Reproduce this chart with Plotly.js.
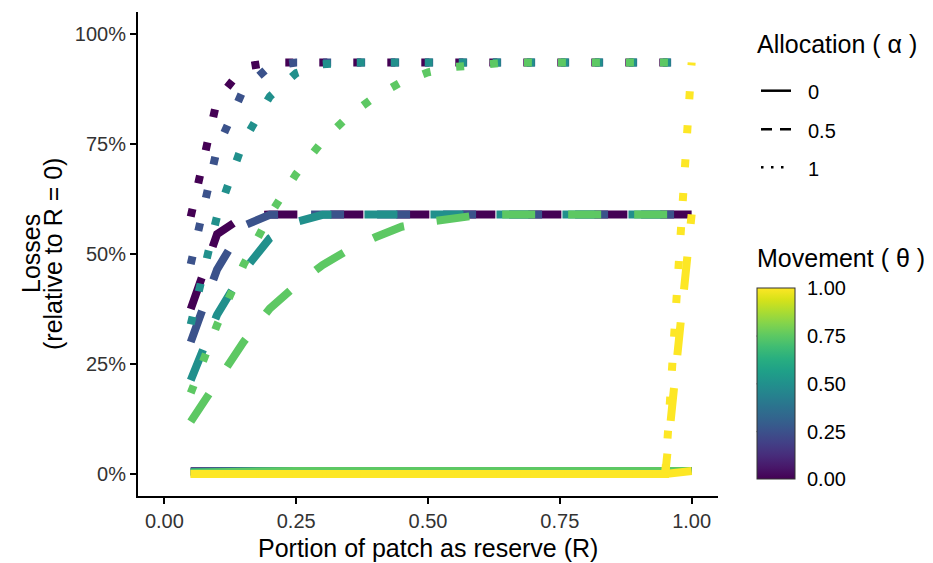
<!DOCTYPE html>
<html>
<head>
<meta charset="utf-8">
<script src="https://cdn.plot.ly/plotly-3.0.1.min.js"></script>
<style>
  html, body { margin: 0; padding: 0; background: #ffffff; }
  #chart { width: 933px; height: 563px; }
</style>
</head>
<body>
<div id="chart"></div>
<script>
// ---- data ----
const R = [0.05,0.10,0.15,0.20,0.25,0.30,0.35,0.40,0.45,0.50,0.55,0.60,0.65,0.70,0.75,0.80,0.85,0.90,0.95,1.00];
const thetas = [0, 0.25, 0.5, 0.75, 1];
const thetaColors = ['#440154','#3B528B','#21908C','#5DC863','#FDE725'];
const alphaLabels = ['0','0.5','1'];
const xTickVals = [0, 0.25, 0.5, 0.75, 1];
const xTickText = ['0.00','0.25','0.50','0.75','1.00'];
const yTickVals = [0, 0.25, 0.5, 0.75, 1];
const yTickText = ['0%','25%','50%','75%','100%'];
const cbTickText = ['0.00','0.25','0.50','0.75','1.00'];

// alpha = 0 (solid)
const solid_theta000 = [0.006,0.007,0.007,0.007,0.007,0.007,0.007,0.007,0.007,0.007,0.007,0.007,0.007,0.007,0.007,0.007,0.007,0.007,0.007,0.007];
const solid_theta025 = [0.0055,0.0068,0.007,0.007,0.007,0.007,0.007,0.007,0.007,0.007,0.007,0.007,0.007,0.007,0.007,0.007,0.007,0.007,0.007,0.007];
const solid_theta050 = [0.0045,0.006,0.0068,0.007,0.007,0.007,0.007,0.007,0.007,0.007,0.007,0.007,0.007,0.007,0.007,0.007,0.007,0.007,0.007,0.007];
const solid_theta075 = [0.003,0.005,0.006,0.0065,0.007,0.007,0.007,0.007,0.007,0.007,0.007,0.007,0.007,0.007,0.007,0.007,0.007,0.007,0.007,0.007];
const solid_theta100 = [0,0,0,0,0,0,0,0,0,0,0,0,0,0,0,0,0,0,0,0.007];
// alpha = 0.5 (dashed)
const dashed_theta000 = [0.375,0.545,0.585,0.59,0.59,0.59,0.59,0.59,0.59,0.59,0.59,0.59,0.59,0.59,0.59,0.59,0.59,0.59,0.59,0.59];
const dashed_theta025 = [0.30,0.465,0.564,0.589,0.59,0.59,0.59,0.59,0.59,0.59,0.59,0.59,0.59,0.59,0.59,0.59,0.59,0.59,0.59,0.59];
const dashed_theta050 = [0.213,0.362,0.461,0.536,0.573,0.589,0.59,0.59,0.59,0.59,0.59,0.59,0.59,0.59,0.59,0.59,0.59,0.59,0.59,0.59];
const dashed_theta075 = [0.119,0.212,0.30,0.376,0.429,0.475,0.51,0.538,0.562,0.573,0.583,0.589,0.59,0.59,0.59,0.59,0.59,0.59,0.59,0.59];
const dashed_theta100 = [0,0,0,0,0,0,0,0,0,0,0,0,0,0,0,0,0,0,0,0.59];
// alpha = 1 (dotted)
const dotted_theta000 = [0.585,0.85,0.925,0.935,0.935,0.935,0.935,0.935,0.935,0.935,0.935,0.935,0.935,0.935,0.935,0.935,0.935,0.935,0.935,0.935];
const dotted_theta025 = [0.477,0.739,0.874,0.927,0.935,0.935,0.935,0.935,0.935,0.935,0.935,0.935,0.935,0.935,0.935,0.935,0.935,0.935,0.935,0.935];
const dotted_theta050 = [0.34,0.586,0.756,0.858,0.911,0.931,0.935,0.935,0.935,0.935,0.935,0.935,0.935,0.935,0.935,0.935,0.935,0.935,0.935,0.935];
const dotted_theta075 = [0.184,0.339,0.475,0.589,0.682,0.757,0.814,0.858,0.891,0.913,0.925,0.932,0.935,0.935,0.935,0.935,0.935,0.935,0.935,0.935];
const dotted_theta100 = [0,0,0,0,0,0,0,0,0,0,0,0,0,0,0,0,0,0,0,0.935];

const seriesByTheta = [
  [solid_theta000, dashed_theta000, dotted_theta000],
  [solid_theta025, dashed_theta025, dotted_theta025],
  [solid_theta050, dashed_theta050, dotted_theta050],
  [solid_theta075, dashed_theta075, dotted_theta075],
  [solid_theta100, dashed_theta100, dotted_theta100]
];

// ---- styling ----
const FONT = '"Liberation Sans", Arial, Helvetica, sans-serif';
const LW = 8;
const dashStyles = ['solid', '33px,33px', '8px,26px'];
const TITLE_SIZE = 25;
const TICK_SIZE = 20;

// plot area in pixels
const W = 933, H = 563;
const M = {l: 138, r: 215, t: 12, b: 67};
const PW = W - M.l - M.r, PH = H - M.t - M.b;
const px = v => (v - M.l) / PW;          // pixel x -> paper
const py = v => (H - M.b - v) / PH;      // pixel y -> paper

const traces = [];
thetas.forEach((th, i) => {
  seriesByTheta[i].forEach((ys, a) => {
    traces.push({
      type: 'scatter', mode: 'lines', x: R, y: ys,
      line: {color: thetaColors[i], width: LW, dash: dashStyles[a]},
      name: 'theta ' + th + ', alpha ' + alphaLabels[a],
      showlegend: false, hoverinfo: 'skip'
    });
  });
});

// colour bar (invisible carrier trace)
const cbBottom = 479.3, cbTop = 288.3, cbLeft = 756.7, cbThick = 38;
traces.push({
  type: 'scatter', mode: 'markers', x: [R[0]], y: [solid_theta000[0]],
  marker: {
    color: [thetas[0]], opacity: 0, cmin: 0, cmax: 1, colorscale: 'Viridis', showscale: true,
    colorbar: {
      x: px(cbLeft), xanchor: 'left', xpad: 0,
      y: py(cbBottom), yanchor: 'bottom', ypad: 0,
      lenmode: 'pixels', len: cbBottom - cbTop,
      thicknessmode: 'pixels', thickness: cbThick,
      outlinewidth: 1, outlinecolor: '#333333',
      tickmode: 'array', tickvals: thetas, ticktext: cbTickText,
      ticks: 'outside', ticklen: 8, tickwidth: 1, tickcolor: 'rgba(0,0,0,0)',
      tickfont: {family: FONT, size: TICK_SIZE, color: '#000000'},
      title: {text: ''}
    }
  },
  showlegend: false, hoverinfo: 'skip'
});

// legend keys (Allocation)
const keyX0 = 761, keyX1 = 791;
const keyY = [90.7, 129.3, 167.3];
const keyDash = ['solid', '11px,8px', '2.5px,7.5px'];
const shapes = keyY.map((y, k) => ({
  type: 'line', xref: 'paper', yref: 'paper',
  x0: px(keyX0), x1: px(keyX1), y0: py(y), y1: py(y),
  line: {color: '#000000', width: 2.5, dash: keyDash[k]}
}));
// colour bar ticks on both sides
[0.25, 0.5, 0.75].forEach(v => {
  const yy = cbBottom - v * (cbBottom - cbTop);
  shapes.push({type: 'line', xref: 'paper', yref: 'paper',
    x0: px(cbLeft), x1: px(cbLeft + 6), y0: py(yy), y1: py(yy),
    line: {color: '#222222', width: 1.2}});
  shapes.push({type: 'line', xref: 'paper', yref: 'paper',
    x0: px(cbLeft + cbThick - 6), x1: px(cbLeft + cbThick), y0: py(yy), y1: py(yy),
    line: {color: '#222222', width: 1.2}});
});

const annotations = [
  {text: 'Allocation ( α )', xref: 'paper', yref: 'paper', x: px(755), y: py(44), xanchor: 'left', yanchor: 'middle', showarrow: false, font: {family: FONT, size: TITLE_SIZE, color: '#000'}},
  {text: 'Movement ( θ )', xref: 'paper', yref: 'paper', x: px(755), y: py(258), xanchor: 'left', yanchor: 'middle', showarrow: false, font: {family: FONT, size: TITLE_SIZE, color: '#000'}},
  {text: 'Portion of patch as reserve (R)', xref: 'paper', yref: 'paper', x: 0.5, y: py(548), xanchor: 'center', yanchor: 'middle', showarrow: false, font: {family: FONT, size: TITLE_SIZE, color: '#000'}},
  {text: 'Losses', xref: 'paper', yref: 'paper', x: px(31), y: 0.5, xanchor: 'center', yanchor: 'middle', textangle: -90, showarrow: false, font: {family: FONT, size: TITLE_SIZE, color: '#000'}},
  {text: '(relative to R = 0)', xref: 'paper', yref: 'paper', x: px(53), y: 0.5, xanchor: 'center', yanchor: 'middle', textangle: -90, showarrow: false, font: {family: FONT, size: TITLE_SIZE, color: '#000'}}
];
alphaLabels.forEach((lab, k) => {
  annotations.push({text: lab, xref: 'paper', yref: 'paper', x: px(806), y: py(keyY[k] + 1.5), xanchor: 'left', yanchor: 'middle', showarrow: false, font: {family: FONT, size: TICK_SIZE, color: '#000'}});
});

const axisCommon = {
  showline: true, linecolor: '#000000', linewidth: 2,
  ticks: 'outside', ticklen: 6, tickwidth: 2, tickcolor: '#000000',
  showgrid: false, zeroline: false, tickmode: 'array',
  tickfont: {family: FONT, size: TICK_SIZE, color: '#333333'},
  fixedrange: true
};

const layout = {
  width: W, height: H,
  margin: M,
  paper_bgcolor: '#ffffff', plot_bgcolor: '#ffffff',
  font: {family: FONT},
  showlegend: false,
  xaxis: Object.assign({}, axisCommon, {range: [-0.05, 1.05], tickvals: xTickVals, ticktext: xTickText, title: {text: ''}}),
  yaxis: Object.assign({}, axisCommon, {range: [-0.05, 1.05], tickvals: yTickVals, ticktext: yTickText, title: {text: ''}}),
  shapes: shapes,
  annotations: annotations
};

Plotly.newPlot('chart', traces, layout, {displayModeBar: false, staticPlot: true});
</script>
</body>
</html>
